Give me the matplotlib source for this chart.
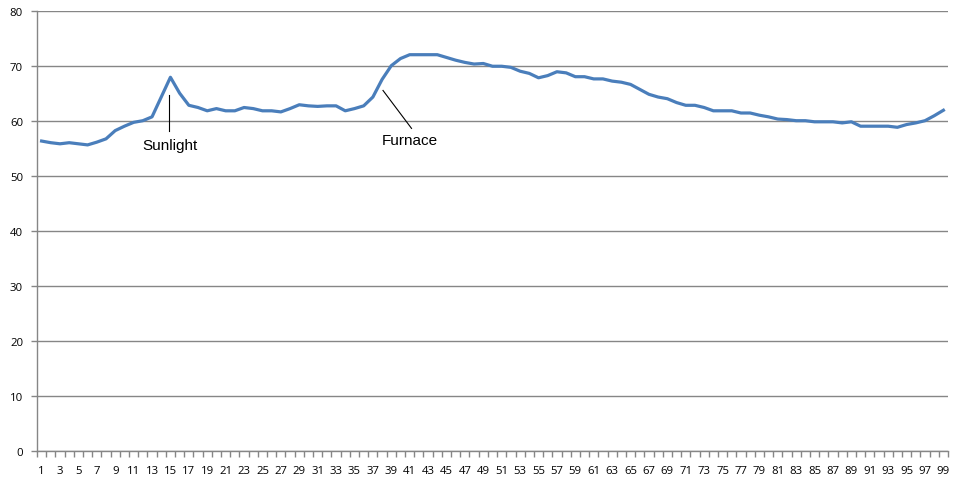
import matplotlib
matplotlib.use('Agg')
import matplotlib.pyplot as plt
import numpy as np

# readings, one per sample 1..99
days = list(range(1, 100))
temps = [56.3, 56.0, 55.8, 56.0, 55.8, 55.6, 56.1, 56.7, 58.2, 59.0,
         59.7, 60.0, 60.7, 64.3, 67.9, 65.0, 62.8, 62.4, 61.8, 62.2,
         61.8, 61.8, 62.4, 62.2, 61.8, 61.8, 61.6, 62.2, 62.9, 62.7,
         62.6, 62.7, 62.7, 61.8, 62.2, 62.7, 64.3, 67.5, 70.0, 71.3,
         72.0, 72.0, 72.0, 72.0, 71.5, 71.0, 70.6, 70.3, 70.4, 69.9,
         69.9, 69.7, 69.0, 68.6, 67.8, 68.2, 68.9, 68.7, 68.0, 68.0,
         67.6, 67.6, 67.2, 67.0, 66.6, 65.7, 64.8, 64.3, 64.0, 63.3,
         62.8, 62.8, 62.4, 61.8, 61.8, 61.8, 61.4, 61.4, 61.0, 60.7,
         60.3, 60.2, 60.0, 60.0, 59.8, 59.8, 59.8, 59.6, 59.8, 59.0,
         59.0, 59.0, 59.0, 58.8, 59.3, 59.6, 60.0, 60.9, 61.9]

# annotations: label, text position, line start, line end
notes = [
    ('Sunlight', (15.0, 55.6), (14.8, 64.7), (14.8, 58.1)),
    ('Furnace', (41.0, 56.5), (38.1, 65.5), (41.2, 58.6)),
]

grey = '#868686'

fig = plt.figure(figsize=(9.57, 4.85), dpi=100)
ax = fig.add_axes([37 / 957, 33.3 / 485, 911 / 957, 440 / 485])

ax.plot(days, temps, color='#4A7EBB', lw=2.3, solid_joinstyle='round')

ax.set_xlim(0.5, 99.5)
ax.set_ylim(0, 80)
ax.set_yticks(np.arange(0, 81, 10))
ax.yaxis.grid(True, color=grey, lw=1)
ax.set_axisbelow(True)

ax.set_xticks(days[::2])
ax.set_xticks(np.arange(0.5, 100, 1), minor=True)
ax.tick_params(axis='x', which='major', length=0, pad=10, labelsize=8.2)
ax.tick_params(axis='x', which='minor', length=4, color=grey, width=1)
ax.tick_params(axis='y', length=4, color=grey, width=1, pad=6, labelsize=8.2)
for lab in ax.get_xticklabels() + ax.get_yticklabels():
    lab.set_family('Open Sans')

for side in ['top', 'right']:
    ax.spines[side].set_visible(False)
for side in ['left', 'bottom']:
    ax.spines[side].set_color(grey)
    ax.spines[side].set_linewidth(1)

for label, txt, p0, p1 in notes:
    ax.plot([p0[0], p1[0]], [p0[1], p1[1]], color='black', lw=0.8)
    ax.text(txt[0], txt[1], label, ha='center', va='center',
            fontsize=11, family='Liberation Sans')

fig.savefig('out.png', dpi=100)
